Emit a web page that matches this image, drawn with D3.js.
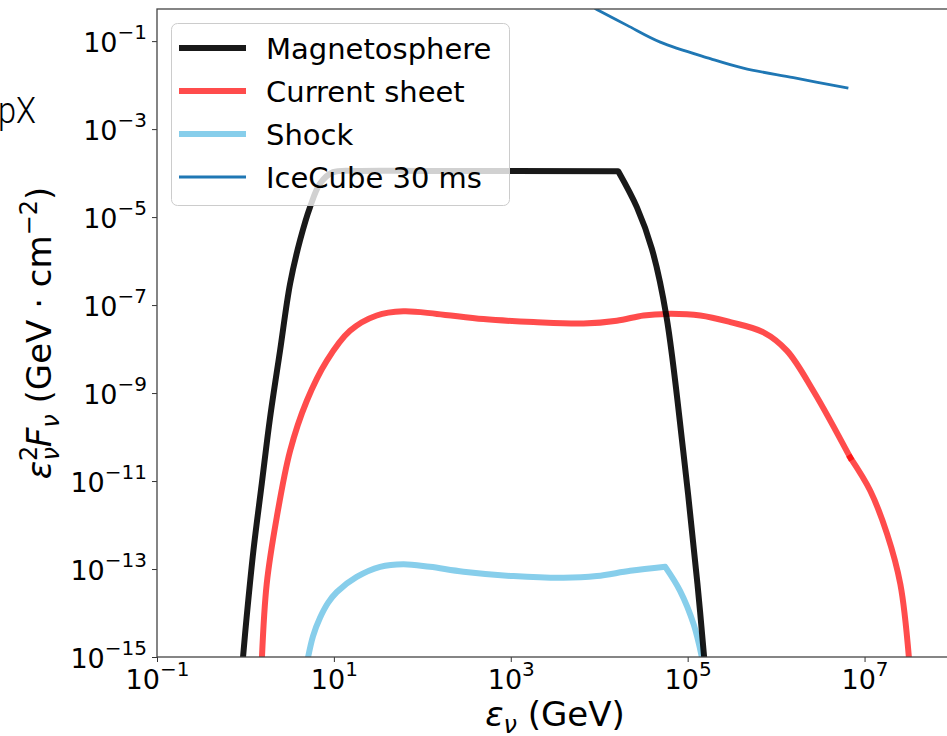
<!DOCTYPE html>
<html>
<head>
<meta charset="utf-8">
<script src="https://cdn.jsdelivr.net/npm/d3@7"></script>
<style>
  body { margin: 0; background: #fff; }
  text { font-family: "DejaVu Sans", sans-serif; fill: #000; }
</style>
</head>
<body>
<div id="chart"></div>
<script>
// neutrino energy (GeV) and flux e^2 F (GeV cm^-2)
var magnetoE = [0.93, 1.03, 1.23, 1.53, 1.90, 2.46, 3.20, 4.15, 5.38, 6.98, 9.8, 20, 100, 1.64e4,
                2.67e4, 3.94e4, 5.73e4, 8.9e4, 1.29e5, 1.55e5];
var magnetoF = [8e-16, 7.8e-15, 2.6e-13, 8.7e-12, 2.8e-10, 9.1e-9, 3.1e-7, 3.0e-6, 1.7e-5, 5.8e-5, 1.05e-4, 1.12e-4, 1.12e-4, 1.1e-4,
                1.66e-5, 1.9e-6, 5.8e-8, 4.9e-11, 4.6e-14, 8e-16];
var magnetoCorners = [13];

var sheetE = [1.53, 1.74, 2.26, 3.2, 4.93, 8.3, 15.2, 30.5, 61, 146, 491, 1810, 6640, 1.58e4, 3.17e4,
              5.83e4, 1.39e5, 3.03e5, 7.2e5, 1.33e6, 2.65e6, 6.9e6];
var sheetF = [8e-16, 4.6e-14, 1.5e-12, 4.9e-11, 6.6e-10, 5.4e-9, 2.6e-8, 5.8e-8, 7.2e-8, 6.3e-8, 4.8e-8, 4.1e-8, 3.8e-8, 4.4e-8, 5.8e-8,
              6.3e-8, 5.8e-8, 4.1e-8, 2.4e-8, 9.1e-9, 1.1e-9, 3.4e-11];
// second piece of the current sheet curve (high energy tail)
var sheetTailE = [6.9e6, 1.16e7, 1.8e7, 2.54e7, 3.2e7];
var sheetTailF = [3.4e-11, 6.0e-12, 6.2e-13, 4.5e-14, 8e-16];

var shockE = [5.0, 5.81, 6.97, 8.58, 10.8, 18.1, 33.3, 61, 122, 292, 1070, 3940, 9400, 2.24e4, 5.58e4, 8.2e4, 1.17e5, 1.48e5];
var shockF = [8e-16, 3.0e-15, 7.8e-15, 1.7e-14, 3.0e-14, 6.6e-14, 1.12e-13, 1.29e-13, 1.12e-13, 8.7e-14, 6.9e-14, 6.3e-14, 6.9e-14,
              9.1e-14, 1.12e-13, 3.2e-14, 5.5e-15, 8e-16];
var shockCorners = [14];

var icecubeE = [8900, 9500, 2.07e4, 4.9e4, 1.8e5, 4.26e5, 1.57e6, 6.56e6];
var icecubeF = [0.556, 0.518, 0.228, 0.0948, 0.040, 0.0243, 0.0147, 0.0085];

var xTicks = [1e-1, 1e1, 1e3, 1e5, 1e7];
var yTicks = [1e-15, 1e-13, 1e-11, 1e-9, 1e-7, 1e-5, 1e-3, 1e-1];

var legendLabels = ["Magnetosphere", "Current sheet", "Shock", "IceCube 30 ms"];
var legendColors = ["#000", "red", "skyblue", "#1f77b4"];
var legendOpacity = [0.9, 0.7, 1, 1];
var legendWidths = [6, 6, 6, 2.8];

var svg = d3.select("#chart")
    .append("svg")
    .attr("width", 947)
    .attr("height", 736);

var x = d3.scaleLog().domain([1e-1, 1e8]).range([157, 953]);
var y = d3.scaleLog().domain([1e-15, Math.pow(10, -0.27)]).range([657, 9]);

svg.append("clipPath").attr("id", "plotclip")
    .append("rect")
    .attr("x", x.range()[0]).attr("y", y.range()[1])
    .attr("width", x.range()[1] - x.range()[0])
    .attr("height", y.range()[0] - y.range()[1]);

// smooth path through the points, with sharp corners at given indices
function seriesPath(E, F, corners) {
  var pts = E.map(function (e, i) { return [x(e), y(F[i])]; });
  var line = d3.line().curve(d3.curveCatmullRom.alpha(0.5));
  var cuts = [0].concat(corners || [], [pts.length - 1]);
  var d = "";
  for (var k = 0; k < cuts.length - 1; k++) {
    var piece = line(pts.slice(cuts[k], cuts[k + 1] + 1));
    d += k === 0 ? piece : "L" + piece.slice(1);
  }
  return d;
}

var plot = svg.append("g").attr("clip-path", "url(#plotclip)");

plot.append("path")
    .attr("d", seriesPath(sheetE, sheetF))
    .attr("fill", "none").attr("stroke", "red").attr("stroke-opacity", 0.7)
    .attr("stroke-width", 6).attr("stroke-linecap", "square");
plot.append("path")
    .attr("d", seriesPath(sheetTailE, sheetTailF))
    .attr("fill", "none").attr("stroke", "red").attr("stroke-opacity", 0.7)
    .attr("stroke-width", 6).attr("stroke-linecap", "square");

plot.append("path")
    .attr("d", seriesPath(shockE, shockF, shockCorners))
    .attr("fill", "none").attr("stroke", "skyblue")
    .attr("stroke-width", 6).attr("stroke-linejoin", "round");

plot.append("path")
    .attr("d", seriesPath(magnetoE, magnetoF, magnetoCorners))
    .attr("fill", "none").attr("stroke", "#000").attr("stroke-opacity", 0.9)
    .attr("stroke-width", 6).attr("stroke-linejoin", "round");

plot.append("path")
    .attr("d", seriesPath(icecubeE, icecubeF))
    .attr("fill", "none").attr("stroke", "#1f77b4")
    .attr("stroke-width", 2.8);

// axes
function expLabel(sel, v) {
  var p = Math.round(Math.log10(v));
  sel.text("");
  sel.append("tspan").text("10");
  sel.append("tspan").attr("dy", -13).style("font-size", "20px")
      .text((p < 0 ? "\u2212" : "") + Math.abs(p));
}

var xAxis = svg.append("g")
    .attr("transform", "translate(0," + y.range()[0] + ")")
    .call(d3.axisBottom(x).tickValues(xTicks).tickSize(5).tickPadding(5).tickFormat(""))
    .attr("font-family", null).attr("font-size", null).attr("color", "#333");
xAxis.select(".domain").remove();
xAxis.selectAll(".tick text")
    .attr("y", 32).attr("dy", 0)
    .style("font-size", "27px")
    .each(function (d) { expLabel(d3.select(this), d); });

var yAxis = svg.append("g")
    .attr("transform", "translate(" + x.range()[0] + ",0)")
    .call(d3.axisLeft(y).tickValues(yTicks).tickSize(5).tickPadding(5).tickFormat(""))
    .attr("font-family", null).attr("font-size", null).attr("color", "#333");
yAxis.select(".domain").remove();
yAxis.selectAll(".tick text")
    .attr("dy", 10.5)
    .style("font-size", "27px")
    .each(function (d) { expLabel(d3.select(this), d); });

// spines
svg.append("rect")
    .attr("x", x.range()[0]).attr("y", y.range()[1])
    .attr("width", x.range()[1] - x.range()[0])
    .attr("height", y.range()[0] - y.range()[1])
    .attr("fill", "none").attr("stroke", "#444").attr("stroke-width", 1.3);

// axis labels
var xl = svg.append("text")
    .attr("x", (x.range()[0] + x.range()[1]) / 2).attr("y", 726)
    .attr("text-anchor", "middle").style("font-size", "34px");
xl.append("tspan").style("font-style", "italic").text("\u03b5");
xl.append("tspan").attr("dy", 7).style("font-size", "24px").style("font-style", "italic").text("\u03bd");
xl.append("tspan").attr("dy", -7).text(" (GeV)");

var yl = svg.append("text")
    .attr("transform", "translate(51," + (y.range()[0] + y.range()[1]) / 2 + ") rotate(-90)")
    .attr("text-anchor", "middle").style("font-size", "34px");
yl.append("tspan").style("font-style", "italic").text("\u03b5");
yl.append("tspan").attr("dy", -14).style("font-size", "24px").text("2");
yl.append("tspan").attr("dx", -15).attr("dy", 22).style("font-size", "24px").style("font-style", "italic").text("\u03bd");
yl.append("tspan").attr("dy", -8).style("font-style", "italic").text("F");
yl.append("tspan").attr("dy", 8).style("font-size", "24px").style("font-style", "italic").text("\u03bd");
yl.append("tspan").attr("dy", -8).text(" (GeV \u00b7 cm");
yl.append("tspan").attr("dy", -14).style("font-size", "24px").text("\u22122");
yl.append("tspan").attr("dy", 14).text(")");

// legend
var legend = svg.append("g");
legend.append("rect")
    .attr("x", 171.5).attr("y", 23.5).attr("width", 338).attr("height", 182).attr("rx", 6)
    .attr("fill", "#fff").attr("fill-opacity", 0.8)
    .attr("stroke", "#ccc").attr("stroke-width", 1);

var rows = legend.selectAll(".row")
    .data(legendLabels)
    .enter()
    .append("g")
    .attr("transform", function (d, i) { return "translate(0," + (48 + i * 43) + ")"; });
rows.append("line")
    .attr("x1", 179).attr("x2", 246)
    .attr("stroke", function (d, i) { return legendColors[i]; })
    .attr("stroke-opacity", function (d, i) { return legendOpacity[i]; })
    .attr("stroke-width", function (d, i) { return legendWidths[i]; });
rows.append("text")
    .attr("x", 266).attr("y", 10.5)
    .style("font-size", "29px")
    .text(function (d) { return d; });

// stray text cut off at the left edge of the screenshot
svg.append("text")
    .attr("x", -2).attr("y", 123)
    .attr("textLength", 38).attr("lengthAdjust", "spacingAndGlyphs")
    .style("font-family", "Roboto").style("font-weight", 300).style("font-size", "36px")
    .text("pX");
</script>
</body>
</html>
